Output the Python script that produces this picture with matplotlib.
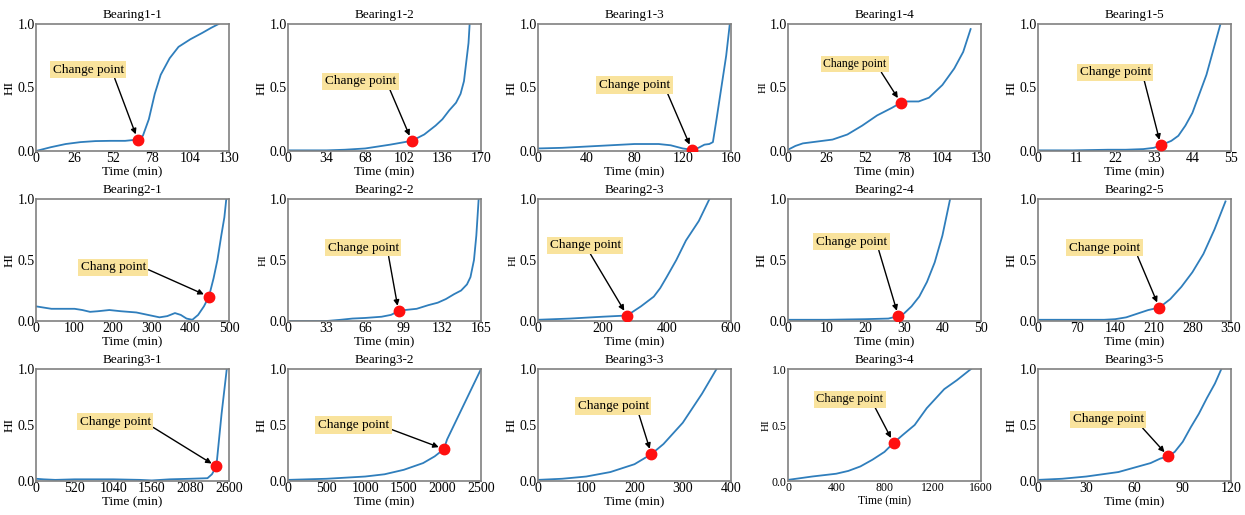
import numpy as np
import matplotlib.pyplot as plt

plt.rcParams['font.family'] = ['Liberation Serif', 'DejaVu Serif']

# health index curves (time in min, HI)
b11_t = [0, 10, 20, 30, 40, 50, 60, 68.5, 72, 76, 80, 84, 90, 96, 104, 112, 118, 123]
b11_hi = [0.0, 0.03, 0.055, 0.07, 0.078, 0.08, 0.08, 0.09, 0.12, 0.25, 0.45, 0.6, 0.73, 0.82, 0.88, 0.93, 0.97, 1.0]
b12_t = [0, 34, 50, 68, 90, 109, 120, 130, 136, 142, 148, 152, 155, 157, 159, 160]
b12_hi = [0.005, 0.005, 0.01, 0.02, 0.05, 0.08, 0.13, 0.2, 0.25, 0.32, 0.38, 0.45, 0.55, 0.7, 0.85, 1.0]
b13_t = [0, 20, 40, 60, 80, 100, 110, 120, 127.5, 133, 138, 142, 145, 148, 152, 156, 159]
b13_hi = [0.02, 0.025, 0.035, 0.045, 0.055, 0.055, 0.045, 0.02, 0.01, 0.025, 0.05, 0.055, 0.07, 0.25, 0.5, 0.75, 1.0]
b14_t = [0, 5, 10, 20, 30, 40, 50, 60, 70, 76, 80, 88, 95, 104, 112, 118, 123]
b14_hi = [0.01, 0.04, 0.06, 0.075, 0.09, 0.13, 0.2, 0.28, 0.34, 0.38, 0.39, 0.39, 0.42, 0.52, 0.65, 0.78, 0.96]
b15_t = [0, 10, 20, 25, 30, 33, 35, 38, 40, 42, 44, 46, 48, 50, 52]
b15_hi = [0.005, 0.005, 0.01, 0.01, 0.015, 0.025, 0.045, 0.08, 0.12, 0.2, 0.3, 0.45, 0.6, 0.8, 1.0]

b21_t = [0, 20, 40, 60, 100, 120, 140, 160, 190, 220, 260, 290, 320, 340, 360, 375, 390, 405, 420, 435, 448, 460, 470, 480, 488, 493]
b21_hi = [0.12, 0.11, 0.1, 0.1, 0.1, 0.09, 0.075, 0.08, 0.09, 0.08, 0.07, 0.05, 0.03, 0.04, 0.065, 0.05, 0.02, 0.01, 0.05, 0.12, 0.2, 0.35, 0.5, 0.7, 0.85, 1.0]
b22_t = [0, 33, 45, 55, 66, 80, 88, 94.5, 100, 110, 120, 128, 135, 142, 148, 153, 156, 159, 161, 163]
b22_hi = [0.0, 0.0, 0.01, 0.02, 0.025, 0.035, 0.05, 0.08, 0.09, 0.1, 0.13, 0.15, 0.18, 0.22, 0.25, 0.3, 0.36, 0.5, 0.7, 1.0]
b23_t = [0, 100, 200, 277, 320, 360, 380, 400, 430, 460, 500, 533]
b23_hi = [0.01, 0.02, 0.035, 0.045, 0.12, 0.2, 0.27, 0.36, 0.5, 0.66, 0.82, 1.0]
b24_t = [0, 10, 20, 26, 28.6, 30, 32, 34, 36, 38, 40, 42]
b24_hi = [0.01, 0.01, 0.015, 0.02, 0.04, 0.06, 0.12, 0.2, 0.32, 0.48, 0.7, 1.0]
b25_t = [0, 70, 120, 140, 160, 180, 200, 220, 240, 260, 280, 300, 320, 340]
b25_hi = [0.01, 0.01, 0.01, 0.015, 0.03, 0.06, 0.09, 0.11, 0.18, 0.28, 0.4, 0.55, 0.75, 0.98]

b31_t = [0, 100, 260, 520, 1040, 1400, 1560, 1800, 2080, 2310, 2370, 2430, 2440, 2500, 2570]
b31_hi = [0.02, 0.015, 0.01, 0.015, 0.015, 0.01, 0.005, 0.015, 0.02, 0.025, 0.06, 0.13, 0.2, 0.6, 1.0]
b32_t = [0, 500, 1000, 1250, 1500, 1750, 1900, 2020, 2060, 2500]
b32_hi = [0.01, 0.02, 0.04, 0.06, 0.1, 0.16, 0.22, 0.285, 0.37, 1.0]
b33_t = [0, 50, 100, 150, 200, 235, 260, 300, 340, 370]
b33_hi = [0.01, 0.02, 0.04, 0.08, 0.15, 0.24, 0.33, 0.52, 0.78, 1.0]
b34_t = [0, 200, 400, 500, 600, 700, 800, 875, 950, 1050, 1150, 1295, 1400, 1517]
b34_hi = [0.01, 0.04, 0.065, 0.09, 0.13, 0.19, 0.26, 0.34, 0.41, 0.5, 0.65, 0.82, 0.9, 1.0]
b35_t = [0, 15, 30, 50, 60, 70, 76, 81, 85, 90, 95, 100, 105, 110, 114]
b35_hi = [0.01, 0.02, 0.04, 0.08, 0.12, 0.16, 0.2, 0.22, 0.26, 0.35, 0.48, 0.6, 0.74, 0.87, 1.0]

# change points (time, HI)
change_t = [68.5, 109, 127.5, 76, 35, 448, 94.5, 277, 28.6, 220, 2430, 2020, 235, 875, 81]
change_hi = [0.09, 0.08, 0.01, 0.38, 0.045, 0.2, 0.08, 0.045, 0.04, 0.11, 0.13, 0.285, 0.24, 0.34, 0.22]

titles = ['Bearing1-1', 'Bearing1-2', 'Bearing1-3', 'Bearing1-4', 'Bearing1-5',
          'Bearing2-1', 'Bearing2-2', 'Bearing2-3', 'Bearing2-4', 'Bearing2-5',
          'Bearing3-1', 'Bearing3-2', 'Bearing3-3', 'Bearing3-4', 'Bearing3-5']
x_max = [130, 170, 160, 130, 55, 500, 165, 600, 50, 350, 2600, 2500, 400, 1600, 120]
x_step = [26, 34, 40, 26, 11, 100, 33, 200, 10, 70, 520, 500, 100, 400, 30]
labels = ['Change point'] * 15
labels[5] = 'Chang point'

curves = [(b11_t, b11_hi), (b12_t, b12_hi), (b13_t, b13_hi), (b14_t, b14_hi), (b15_t, b15_hi),
          (b21_t, b21_hi), (b22_t, b22_hi), (b23_t, b23_hi), (b24_t, b24_hi), (b25_t, b25_hi),
          (b31_t, b31_hi), (b32_t, b32_hi), (b33_t, b33_hi), (b34_t, b34_hi), (b35_t, b35_hi)]

# label box position (axes fraction) and where the arrow leaves the box
box_pos = [(0.27, 0.64), (0.375, 0.55), (0.5, 0.52), (0.345, 0.685), (0.40, 0.62),
           (0.40, 0.44), (0.39, 0.60), (0.245, 0.62), (0.33, 0.65), (0.345, 0.60),
           (0.41, 0.53), (0.34, 0.50), (0.39, 0.67), (0.32, 0.73), (0.364, 0.55)]
arrow_rel = [(0.86, 0), (0.9, 0), (0.95, 0), (0.9, 0), (0.9, 0),
             (1.0, 0.4), (0.85, 0), (0.55, 0), (0.87, 0), (0.95, 0),
             (1.0, 0.15), (1.0, 0.2), (0.85, 0), (0.86, 0), (0.95, 0)]
box_fs = [9.5] * 15
box_fs[3] = 8.5
box_fs[13] = 9
thin_hi = [3, 6, 7, 13]

fig = plt.figure(figsize=(12.45, 5.15), dpi=100)
W, H = 1245.0, 515.0
col_left = [36, 288, 538, 788, 1038]
rows = [(24, 151), (199, 321), (369, 481)]

for i in range(15):
    r, c = divmod(i, 5)
    top, bot = rows[r]
    ax = fig.add_axes([col_left[c] / W, 1 - bot / H, 193 / W, (bot - top) / H])
    t, hi = curves[i]
    ax.plot(t, hi, color='#2f7ebc', lw=1.3)
    ax.plot(change_t[i], change_hi[i], 'o', color='#ff1010', ms=7.5, zorder=5)
    ax.annotate(labels[i], xy=(change_t[i], change_hi[i]), xycoords='data',
                xytext=box_pos[i], textcoords='axes fraction',
                ha='center', va='center', fontsize=box_fs[i],
                bbox=dict(boxstyle='square,pad=0.2', fc='#f9e39d', ec='none'),
                arrowprops=dict(arrowstyle='-|>', color='black', lw=1.0,
                                mutation_scale=8, shrinkA=0, shrinkB=4,
                                relpos=arrow_rel[i]))
    ax.set_xlim(0, x_max[i])
    ax.set_ylim(0, 1)
    ax.set_xticks(np.arange(0, x_max[i] + 1, x_step[i]))
    ax.set_yticks([0, 0.5, 1.0])
    ax.set_yticklabels(['0.0', '0.5', '1.0'])
    ax.tick_params(length=0, pad=1, labelsize=8.5 if i == 13 else 10)
    ax.set_title(titles[i], fontsize=9.5, pad=4)
    ax.set_xlabel('Time (min)', fontsize=8.5 if i == 13 else 9.5, labelpad=1)
    ax.set_ylabel('HI', fontsize=8 if i in thin_hi else 9.5, labelpad=1)
    for s in ax.spines.values():
        s.set_color('#808080')
        s.set_linewidth(1.2)

fig.savefig('out.png', dpi=100)
